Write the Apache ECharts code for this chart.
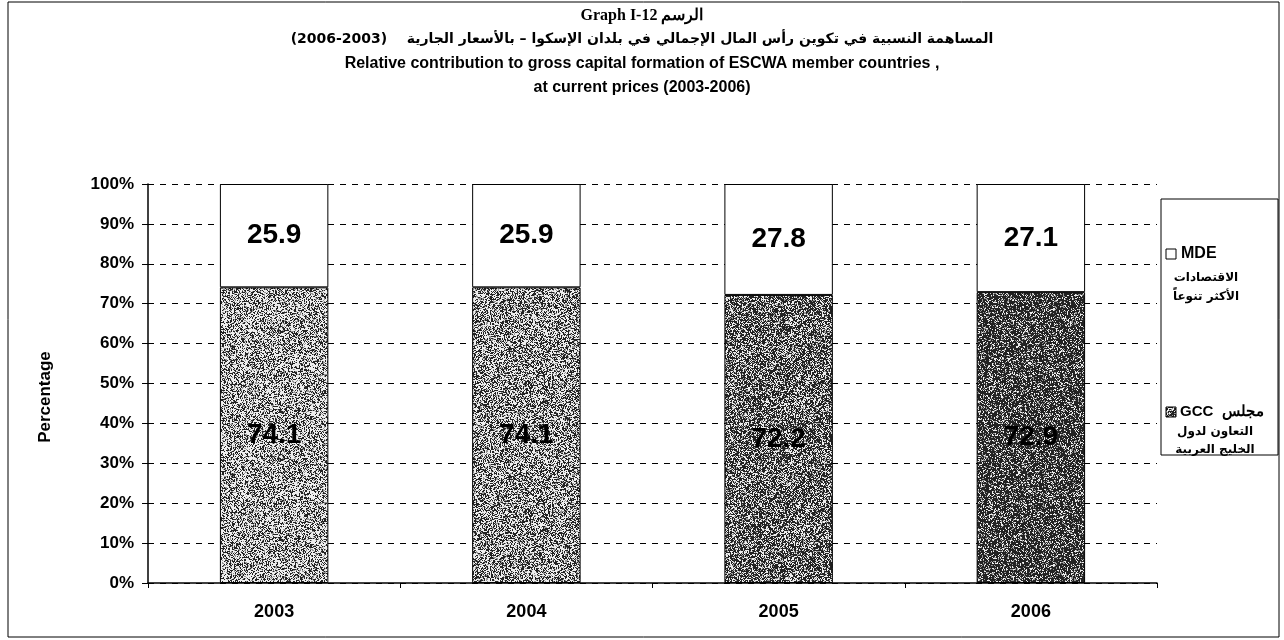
<!DOCTYPE html>
<html>
<head>
<meta charset="utf-8">
<script src="https://cdn.jsdelivr.net/npm/echarts@6/dist/echarts.min.js"></script>
<style>
html,body{margin:0;padding:0;background:#fff;}
#main{width:1284px;height:640px;}
</style>
</head>
<body>
<div id="main"></div>
<script>
var years=['2003','2004','2005','2006'];
var gcc=[74.1,74.1,72.2,72.9];
var mde=[25.9,25.9,27.8,27.1];
var yTicks=[0,10,20,30,40,50,60,70,80,90,100];
var darkness=[0.36,0.42,0.55,0.68];

// deterministic hash for a speckled grey texture (scan look)
function hash(x,y,s){
    var n=Math.imul(x,374761393)+Math.imul(y,668265263)+Math.imul(s,982451653);
    n=Math.imul(n^(n>>>13),1274126177);
    n=n^(n>>>16);
    return (n>>>0)/4294967296;
}
function speckle(level,seed){
    var c=document.createElement('canvas');
    c.width=128;c.height=128;
    var ctx=c.getContext('2d');
    var img=ctx.createImageData(128,128);
    for(var y=0;y<128;y++){
        for(var x=0;x<128;x++){
            var h=hash(x,y,seed);
            var v=h<level?35:(h<level+0.15?150:238);
            var i=(y*128+x)*4;
            img.data[i]=v;img.data[i+1]=v;img.data[i+2]=v;img.data[i+3]=255;
        }
    }
    ctx.putImageData(img,0,0);
    return c;
}

var chart=echarts.init(document.getElementById('main'));
var F='Liberation Sans, Arial, sans-serif';
var AR='DejaVu Sans, sans-serif';

var gccData=gcc.map(function(v,i){
    return {value:v,itemStyle:{color:{image:speckle(darkness[i],i+1),repeat:'repeat'}}};
});

var option={
    backgroundColor:'#fff',
    animation:false,
    title:[
        {text:'Graph I-12 الرسم',left:'center',top:3,
         textStyle:{fontFamily:'Liberation Serif, Times New Roman, serif',fontSize:16,fontWeight:'bold',color:'#000'}},
        {text:'(2006-2003)    المساهمة النسبية في تكوين رأس المال الإجمالي في بلدان الإسكوا – بالأسعار الجارية',left:'center',top:27,
         textStyle:{fontFamily:AR,fontSize:14,fontWeight:'bold',color:'#000'}},
        {text:'Relative contribution to gross capital formation of ESCWA member countries ,',left:'center',top:51,
         textStyle:{fontFamily:F,fontSize:16,fontWeight:'bold',color:'#000'}},
        {text:'at current prices (2003-2006)',left:'center',top:75,
         textStyle:{fontFamily:F,fontSize:16,fontWeight:'bold',color:'#000'}}
    ],
    grid:{left:148,right:127,top:184,bottom:57},
    xAxis:{
        type:'category',
        data:years,
        axisLine:{lineStyle:{color:'#000',width:1.5}},
        axisTick:{show:true,length:5,lineStyle:{color:'#000'}},
        axisLabel:{color:'#000',fontFamily:F,fontSize:18,fontWeight:'bold',margin:20}
    },
    yAxis:{
        type:'value',
        min:0,max:100,interval:10,
        axisLine:{show:true,lineStyle:{color:'#000',width:1.5}},
        axisTick:{show:true,length:6,lineStyle:{color:'#000'}},
        axisLabel:{color:'#000',fontFamily:F,fontSize:17,fontWeight:'bold',margin:14,
            formatter:function(v){return yTicks.indexOf(v)>=0?v+'%':'';}},
        splitLine:{show:true,lineStyle:{color:'#000',type:[6,6],width:1}}
    },
    series:[
        {
            name:'GCC',type:'bar',stack:'t',barWidth:'43%',
            data:gccData,
            itemStyle:{borderColor:'#000',borderWidth:1},
            label:{show:true,position:'inside',color:'#000',fontFamily:F,fontSize:28,fontWeight:'bold',
                formatter:function(p){return p.value.toFixed(1);}}
        },
        {
            name:'MDE',type:'bar',stack:'t',barWidth:'43%',
            data:mde,
            itemStyle:{color:'#fff',borderColor:'#000',borderWidth:1},
            label:{show:true,position:'inside',color:'#000',fontFamily:F,fontSize:28,fontWeight:'bold',
                formatter:function(p){return p.value.toFixed(1);}}
        }
    ],
    graphic:[
        {type:'rect',shape:{x:8,y:2,width:1271,height:635},style:{fill:null,stroke:'#000',lineWidth:1},silent:true},
        {type:'text',x:45,y:397,rotation:Math.PI/2,
         style:{text:'Percentage',font:'bold 17px '+F,fill:'#000',align:'center',verticalAlign:'middle'}},
        {type:'rect',shape:{x:1161,y:199,width:117,height:256},style:{fill:'#fff',stroke:'#000',lineWidth:1},z:10},
        {type:'rect',shape:{x:1166,y:249,width:10,height:10},style:{fill:'#fff',stroke:'#000',lineWidth:1},z:11},
        {type:'text',x:1181,y:254,style:{text:'MDE',font:'bold 16px '+F,fill:'#000',verticalAlign:'middle'},z:11},
        {type:'text',x:1206,y:278,style:{text:'الاقتصادات',font:'bold 12px '+AR,fill:'#000',align:'center',verticalAlign:'middle'},z:11},
        {type:'text',x:1206,y:297,style:{text:'الأكثر تنوعاً',font:'bold 12px '+AR,fill:'#000',align:'center',verticalAlign:'middle'},z:11},
        {type:'rect',shape:{x:1166,y:407,width:10,height:10},style:{fill:{image:speckle(0.5,9),repeat:'repeat'},stroke:'#000',lineWidth:1},z:11},
        {type:'text',x:1180,y:412,style:{text:'GCC  مجلس',font:'bold 15px '+F,fill:'#000',verticalAlign:'middle'},z:11},
        {type:'text',x:1215,y:432,style:{text:'التعاون لدول',font:'bold 12px '+AR,fill:'#000',align:'center',verticalAlign:'middle'},z:11},
        {type:'text',x:1215,y:450,style:{text:'الخليج العربية',font:'bold 12px '+AR,fill:'#000',align:'center',verticalAlign:'middle'},z:11}
    ]
};
chart.setOption(option);
</script>
</body>
</html>
